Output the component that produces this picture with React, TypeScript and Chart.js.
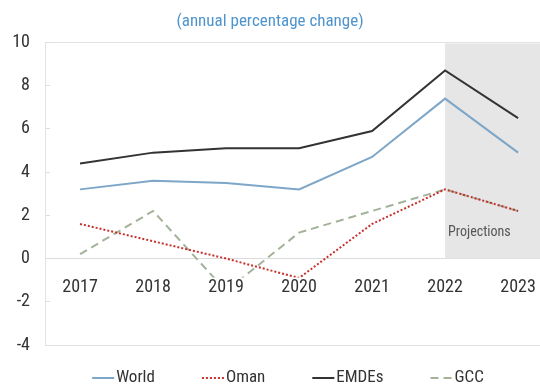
import React, { useEffect, useRef } from 'react';
import { Chart, registerables } from 'chart.js';

Chart.register(...registerables);

// ---- data ----
const years = [2017, 2018, 2019, 2020, 2021, 2022, 2023];
const world = [3.2, 3.6, 3.5, 3.2, 4.7, 7.4, 4.9];
const oman = [1.6, 0.8, 0.0, -0.9, 1.6, 3.2, 2.2];
const emdes = [4.4, 4.9, 5.1, 5.1, 5.9, 8.7, 6.5];
const gcc = [0.2, 2.2, -1.5, 1.2, 2.2, 3.2, 2.2];
const yTicks = [-4, -2, 0, 2, 4, 6, 8, 10];
const seriesNames = ['World', 'Oman', 'EMDEs', 'GCC'];
const projectionStart = 2022;
const projectionTop = 10;
const projectionBottom = 0;
const titleText = '(annual percentage change)';
const projectionLabel = 'Projections';

const FONT = "'Roboto Condensed', 'Open Sans Condensed', 'Liberation Sans Narrow', 'Open Sans', sans-serif";
const WEIGHT = '400 condensed';

const toPoints = (vals: number[]) => years.map((yr, i) => ({ x: yr, y: vals[i] }));

const shadePlugin = {
  id: 'shade',
  beforeDatasetsDraw(chart: any) {
    const { ctx, chartArea, scales } = chart;
    const x = scales.x;
    const y = scales.y;
    const x0 = x.getPixelForValue(projectionStart);
    const yTop = y.getPixelForValue(projectionTop) + 1;
    const yBot = y.getPixelForValue(projectionBottom);
    ctx.save();
    ctx.fillStyle = '#e6e6e6';
    ctx.fillRect(x0, yTop, chartArea.right - x0, yBot - yTop);
    ctx.fillStyle = '#555555';
    ctx.font = `${WEIGHT} 14px ${FONT}`;
    ctx.textBaseline = 'middle';
    ctx.textAlign = 'left';
    ctx.fillText(projectionLabel, x0 + 3, y.getPixelForValue(1.2));
    ctx.restore();
  },
};

// category labels drawn over the lines, on an opaque background (as in the reference)
const xLabelPlugin = {
  id: 'xLabels',
  afterDatasetsDraw(chart: any) {
    const { ctx, scales } = chart;
    const x = scales.x;
    const y0 = scales.y.getPixelForValue(0);
    ctx.save();
    ctx.font = `${WEIGHT} 18px ${FONT}`;
    ctx.textBaseline = 'middle';
    ctx.textAlign = 'center';
    years.forEach((yr) => {
      const label = String(yr);
      const px = x.getPixelForValue(yr);
      const py = y0 + 29;
      const w = ctx.measureText(label).width;
      ctx.fillStyle = '#ffffff';
      ctx.fillRect(px - w / 2 - 2, py - 10, w + 4, 20);
      ctx.fillStyle = '#333333';
      ctx.fillText(label, px, py);
    });
    ctx.restore();
  },
};

const legendPlugin = {
  id: 'customLegend',
  afterDraw(chart: any) {
    const { ctx } = chart;
    const lineLen = 22;
    const textGap = 2;
    const itemGap = 47;
    ctx.save();
    ctx.font = `${WEIGHT} 17px ${FONT}`;
    const items = chart.data.datasets.map((ds: any) => ({
      ds,
      w: lineLen + textGap + ctx.measureText(ds.label).width,
    }));
    const total = items.reduce((s: number, it: any) => s + it.w, 0) + itemGap * (items.length - 1);
    let xPos = chart.width / 2 + 18 - total / 2;
    const yPos = 378;
    items.forEach((it: any) => {
      const ds = it.ds;
      ctx.beginPath();
      ctx.strokeStyle = ds.borderColor;
      ctx.lineWidth = ds.borderWidth;
      ctx.setLineDash(ds.borderDash || []);
      ctx.moveTo(xPos, yPos);
      ctx.lineTo(xPos + lineLen, yPos);
      ctx.stroke();
      ctx.setLineDash([]);
      ctx.fillStyle = '#333333';
      ctx.textBaseline = 'middle';
      ctx.textAlign = 'left';
      ctx.fillText(ds.label, xPos + lineLen + textGap, yPos);
      xPos += it.w + itemGap;
    });
    ctx.restore();
  },
};

export default function App() {
  const canvasRef = useRef<HTMLCanvasElement | null>(null);

  useEffect(() => {
    if (!canvasRef.current) return;
    const chart = new Chart(canvasRef.current, {
      type: 'line',
      data: {
        datasets: [
          {
            label: seriesNames[0],
            data: toPoints(world),
            borderColor: '#7ea6c8',
            borderWidth: 2,
            pointRadius: 0,
            tension: 0,
          },
          {
            label: seriesNames[1],
            data: toPoints(oman),
            borderColor: '#c8302c',
            borderWidth: 2,
            borderDash: [2, 2],
            pointRadius: 0,
            tension: 0,
          },
          {
            label: seriesNames[2],
            data: toPoints(emdes),
            borderColor: '#333333',
            borderWidth: 2,
            pointRadius: 0,
            tension: 0,
          },
          {
            label: seriesNames[3],
            data: toPoints(gcc),
            borderColor: '#a3b39a',
            borderWidth: 2,
            borderDash: [8, 5],
            pointRadius: 0,
            tension: 0,
          },
        ],
      },
      options: {
        animation: false,
        responsive: true,
        maintainAspectRatio: false,
        layout: { padding: { left: 0, right: 0, top: 0, bottom: 44 } },
        plugins: {
          legend: { display: false },
          tooltip: { enabled: false },
          title: {
            display: true,
            text: titleText,
            color: '#4f94cd',
            font: { family: FONT, size: 17, weight: WEIGHT as any },
            padding: { top: 12, bottom: 10 },
          },
        },
        scales: {
          x: {
            type: 'linear',
            position: { y: 0 } as any,
            min: 2016.52,
            max: 2023.3,
            afterBuildTicks: (s: any) => {
              s.ticks = years.map((v) => ({ value: v }));
            },
            afterFit: (s: any) => {
              s.paddingLeft = 0;
              s.paddingRight = 0;
            },
            ticks: {
              callback: (v: any) => String(v),
              color: 'rgba(0,0,0,0)',
              font: { family: FONT, size: 18, weight: WEIGHT as any },
              padding: 18,
              autoSkip: false,
              maxRotation: 0,
            },
            grid: { display: true, color: 'transparent', drawTicks: false },
            border: { display: true, color: '#dcdcdc', width: 1 },
          },
          y: {
            min: -4,
            max: 10,
            afterBuildTicks: (s: any) => {
              s.ticks = yTicks.map((v) => ({ value: v }));
            },
            afterFit: (s: any) => {
              s.width = 45;
            },
            ticks: {
              color: '#333333',
              font: { family: FONT, size: 18, weight: WEIGHT as any },
              padding: 20,
            },
            grid: {
              color: (c: any) =>
                c.tick && (c.tick.value === 10 || c.tick.value === -4) ? '#e3e3e3' : 'transparent',
              tickColor: '#dddddd',
              tickLength: -5,
              drawTicks: true,
            },
            border: { display: true, color: '#e3e3e3', width: 1 },
          },
        },
      },
      plugins: [shadePlugin, xLabelPlugin, legendPlugin],
    });
    return () => chart.destroy();
  }, []);

  return (
    <div style={{ position: 'fixed', left: 0, top: 0, width: 540, height: 389, background: '#ffffff' }}>
      <canvas ref={canvasRef} />
    </div>
  );
}
